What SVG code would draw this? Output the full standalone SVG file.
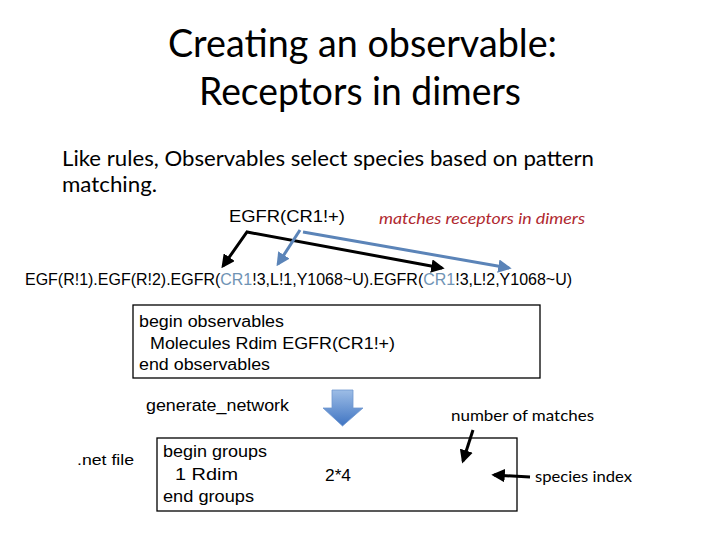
<svg xmlns="http://www.w3.org/2000/svg" width="720" height="540" viewBox="0 0 720 540">
<style>
.title{font-family:Lato,"Liberation Sans",sans-serif;font-size:39px;fill:#000}
.sub{font-family:Lato,"Liberation Sans",sans-serif;font-size:21px;fill:#000}
.code{font-family:"Liberation Sans",Arial,sans-serif;font-size:16px;fill:#000}
.note{font-family:Lato,"Liberation Sans",sans-serif;font-size:15px;fill:#000}
.net{font-family:"Liberation Sans",Arial,sans-serif;font-size:14px;fill:#000}
.red{font-family:Lato,"Liberation Sans",sans-serif;font-size:16px;font-style:italic;fill:#b0282f}
.cr{fill:#6f93b4}
.box{fill:#fff;stroke:#000;stroke-width:1.3}
.blk{fill:none;stroke:#000;stroke-width:3}
.blu{fill:none;stroke:#5b84b8;stroke-width:3}
</style>
<defs>
<marker id="hb" viewBox="0 0 10 10" refX="8" refY="5" markerWidth="4.5" markerHeight="4.5" orient="auto-start-reverse" markerUnits="strokeWidth">
<path d="M0,0 L10,5 L0,10 z" fill="#000"/>
</marker>
<marker id="hu" viewBox="0 0 10 10" refX="8" refY="5" markerWidth="4.5" markerHeight="4.5" orient="auto-start-reverse" markerUnits="strokeWidth">
<path d="M0,0 L10,5 L0,10 z" fill="#5b84b8"/>
</marker>
<linearGradient id="ga" x1="0" y1="0" x2="0" y2="1">
<stop offset="0" stop-color="#9dbde6"/>
<stop offset="1" stop-color="#3f74c2"/>
</linearGradient>
</defs>
<rect width="720" height="540" fill="#fff"/>

<g id="title">
<text class="title" x="168" y="57" textLength="389" lengthAdjust="spacingAndGlyphs">Creating an observable:</text>
<text class="title" x="199" y="105" textLength="322" lengthAdjust="spacingAndGlyphs">Receptors in dimers</text>
</g>
<g id="subtitle">
<text class="sub" x="62" y="166" textLength="532" lengthAdjust="spacingAndGlyphs">Like rules, Observables select species based on pattern</text>
<text class="sub" x="62" y="192" textLength="95" lengthAdjust="spacingAndGlyphs">matching.</text>
</g>
<g id="pattern">
<text class="code" x="229" y="222" textLength="116" lengthAdjust="spacingAndGlyphs">EGFR(CR1!+)</text>
</g>
<g id="matches-note">
<text class="red" x="379" y="224" textLength="206" lengthAdjust="spacingAndGlyphs">matches receptors in dimers</text>
</g>
<g id="species">
<text class="code" x="25" y="285" textLength="547" lengthAdjust="spacingAndGlyphs">EGF(R!1).EGF(R!2).EGFR(<tspan class="cr">CR1</tspan>!3,L!1,Y1068~U).EGFR(<tspan class="cr">CR1</tspan>!3,L!2,Y1068~U)</text>
</g>
<g id="observables-box">
<rect class="box" x="133" y="305" width="407" height="73"/>
<text class="code" x="139" y="327" textLength="145" lengthAdjust="spacingAndGlyphs">begin observables</text>
<text class="code" x="150" y="349" textLength="245" lengthAdjust="spacingAndGlyphs">Molecules Rdim EGFR(CR1!+)</text>
<text class="code" x="139" y="370" textLength="131" lengthAdjust="spacingAndGlyphs">end observables</text>
</g>
<g id="generate">
<text class="code" x="146" y="411" textLength="143" lengthAdjust="spacingAndGlyphs">generate_network</text>
</g>
<g id="down-arrow">
<path d="M332,390 L353,390 L353,408 L363,408 L342.5,426 L323,408 L332,408 z" fill="url(#ga)" stroke="#6f97cf" stroke-width="0.8"/>
</g>
<g id="net-file">
<text class="net" x="77" y="465" textLength="57" lengthAdjust="spacingAndGlyphs">.net file</text>
</g>
<g id="groups-box">
<rect class="box" x="157" y="438" width="360" height="73"/>
<text class="code" x="163" y="457" textLength="104" lengthAdjust="spacingAndGlyphs">begin groups</text>
<text class="code" x="175" y="480" textLength="63" lengthAdjust="spacingAndGlyphs">1 Rdim</text>
<text class="code" x="325" y="481" textLength="26" lengthAdjust="spacingAndGlyphs">2*4</text>
<text class="code" x="163" y="502" textLength="91" lengthAdjust="spacingAndGlyphs">end groups</text>
</g>
<g id="number-label">
<text class="note" x="451" y="421" textLength="143" lengthAdjust="spacingAndGlyphs">number of matches</text>
</g>
<g id="index-label">
<text class="note" x="535" y="482" textLength="97" lengthAdjust="spacingAndGlyphs">species index</text>
</g>
<g id="connectors">
<path class="blk" d="M223,266 L247,232 L442,268" marker-start="url(#hb)" marker-end="url(#hb)"/>
<path class="blu" d="M300,230 L278,264" marker-end="url(#hu)"/>
<path class="blu" d="M303,232 L509,268" marker-end="url(#hu)"/>
<path class="blk" d="M473,430 L463,461" marker-end="url(#hb)"/>
<path class="blk" d="M530,477 L494,475" marker-end="url(#hb)"/>
</g>
</svg>
